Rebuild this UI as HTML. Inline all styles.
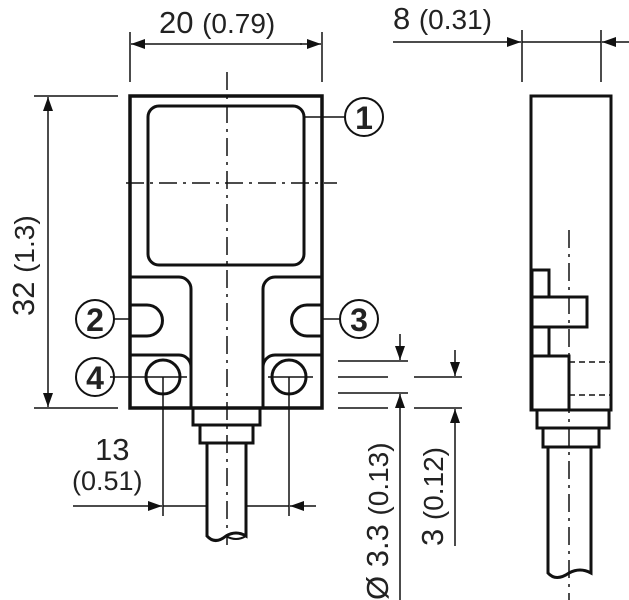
<!DOCTYPE html>
<html><head><style>
html,body{margin:0;padding:0;background:#fff;}
svg{display:block;}
text{font-family:"Liberation Sans",sans-serif;fill:#222;}
</style></head><body>
<svg width="629" height="600" viewBox="0 0 629 600" xmlns="http://www.w3.org/2000/svg">
<defs>
<marker id="a" markerWidth="14" markerHeight="10" refX="14" refY="5" orient="auto" markerUnits="userSpaceOnUse">
<path d="M0,0 L14,5 L0,10 Z" fill="#111"/></marker>
</defs>
<g stroke="#111" fill="none">
<rect x="130" y="96" width="192" height="312" stroke-width="3.5"/>
<rect x="148" y="106" width="156" height="159" rx="11" stroke-width="3"/>
<path d="M130,277 H179 A12,12 0 0 1 191,289 V408" stroke-width="3"/>
<path d="M322,277 H275 A12,12 0 0 0 263,289 V408" stroke-width="3"/>
<path d="M130,355 H179 A12,12 0 0 1 191,367" stroke-width="3"/>
<path d="M322,355 H275 A12,12 0 0 0 263,367" stroke-width="3"/>
<path d="M130,305 H147 A15.5,15.5 0 0 1 147,336 H130" stroke-width="3"/>
<path d="M322,305 H307 A15.5,15.5 0 0 0 307,336 H322" stroke-width="3"/>
<circle cx="163" cy="377" r="17" stroke-width="3"/>
<circle cx="289" cy="377" r="17" stroke-width="3"/>
<rect x="193" y="408" width="67" height="17" stroke-width="3"/>
<rect x="200" y="425" width="53" height="18" stroke-width="3"/>
<path d="M207,443 V536 Q215,545 226,536 Q236,530 246,536 V443" stroke-width="3"/>
<path d="M226,536 Q236,542 246,536" stroke-width="2"/>
<line x1="227" y1="72" x2="227" y2="545" stroke-width="1.5" stroke-dasharray="18,6,3,6"/>
<line x1="126" y1="183" x2="337" y2="183" stroke-width="1.5" stroke-dasharray="18,6,3,6"/>
<g stroke-width="1.5">
<line x1="110" y1="377" x2="187" y2="377"/>
<line x1="268" y1="377" x2="313" y2="377"/>
<line x1="163" y1="377" x2="163" y2="516"/>
<line x1="289" y1="377" x2="289" y2="516"/>
<line x1="130" y1="32" x2="130" y2="82"/>
<line x1="322" y1="32" x2="322" y2="82"/>
<line x1="150" y1="44" x2="131" y2="44" marker-end="url(#a)"/>
<line x1="150" y1="44" x2="302" y2="44"/>
<line x1="300" y1="44" x2="321" y2="44" marker-end="url(#a)"/>
<line x1="34" y1="96" x2="118" y2="96"/>
<line x1="34" y1="408" x2="118" y2="408"/>
<line x1="48" y1="200" x2="48" y2="97" marker-end="url(#a)"/>
<line x1="48" y1="200" x2="48" y2="407" marker-end="url(#a)"/>
<line x1="73" y1="506" x2="162" y2="506" marker-end="url(#a)"/>
<line x1="163" y1="506" x2="207" y2="506"/>
<line x1="246" y1="506" x2="289" y2="506"/>
<line x1="316" y1="506" x2="290" y2="506" marker-end="url(#a)"/>
<line x1="304" y1="117" x2="345" y2="117"/>
<line x1="114" y1="319" x2="130" y2="319"/>
<line x1="322" y1="319" x2="340" y2="319"/>
<line x1="338" y1="361" x2="408" y2="361"/>
<line x1="338" y1="377" x2="388" y2="377"/>
<line x1="338" y1="393" x2="408" y2="393"/>
<line x1="338" y1="408" x2="388" y2="408"/>
<line x1="400" y1="334" x2="400" y2="360" marker-end="url(#a)"/>
<line x1="400" y1="600" x2="400" y2="394" marker-end="url(#a)"/>
<line x1="414" y1="377" x2="462" y2="377"/>
<line x1="414" y1="408" x2="462" y2="408"/>
<line x1="455" y1="350" x2="455" y2="376" marker-end="url(#a)"/>
<line x1="455" y1="546" x2="455" y2="409" marker-end="url(#a)"/>
<line x1="522" y1="30" x2="522" y2="82"/>
<line x1="601" y1="30" x2="601" y2="82"/>
<line x1="393" y1="42" x2="521" y2="42" marker-end="url(#a)"/>
<line x1="522" y1="42" x2="601" y2="42"/>
<line x1="629" y1="42" x2="602" y2="42" marker-end="url(#a)"/>
</g>
<g stroke-width="2">
<circle cx="364" cy="117" r="19"/>
<circle cx="95" cy="319" r="19"/>
<circle cx="359" cy="319" r="19"/>
<circle cx="95" cy="377" r="19"/>
</g>
<rect x="531" y="96" width="80" height="314" stroke-width="3"/>
<rect x="532" y="270" width="17" height="86" stroke-width="3"/>
<rect x="532" y="297" width="55" height="30" stroke-width="3" fill="#fff"/>
<rect x="532" y="356" width="37" height="54" stroke-width="3"/>
<line x1="569" y1="362" x2="610" y2="362" stroke-width="1.5" stroke-dasharray="6,4"/>
<line x1="569" y1="395" x2="610" y2="395" stroke-width="1.5" stroke-dasharray="6,4"/>
<rect x="537" y="410" width="72" height="18" stroke-width="3"/>
<rect x="543" y="428" width="56" height="19" stroke-width="3"/>
<path d="M548,447 V573 Q556,582 569,573 Q580,567 591,573 V447" stroke-width="3"/>
<line x1="569" y1="230" x2="569" y2="600" stroke-width="1.5" stroke-dasharray="18,6,3,6"/>
</g>
<text x="159" y="33" font-size="31">20 <tspan font-size="28">(0.79)</tspan></text>
<text x="393" y="29" font-size="31">8 <tspan font-size="28">(0.31)</tspan></text>
<text transform="translate(34,316) rotate(-90)" font-size="31">32 <tspan font-size="28">(1.3)</tspan></text>
<text x="95" y="460" font-size="31">13</text>
<text x="72" y="490" font-size="27">(0.51)</text>
<text transform="translate(388,600) rotate(-90)" font-size="31">Ø 3.3 <tspan font-size="28">(0.13)</tspan></text>
<text transform="translate(443,546) rotate(-90)" font-size="31">3 <tspan font-size="28">(0.12)</tspan></text>
<g font-size="32" font-weight="bold" text-anchor="middle">
<text x="364" y="129">1</text>
<text x="95" y="331">2</text>
<text x="359" y="331">3</text>
<text x="95" y="389">4</text>
</g>
</svg>
</body></html>
